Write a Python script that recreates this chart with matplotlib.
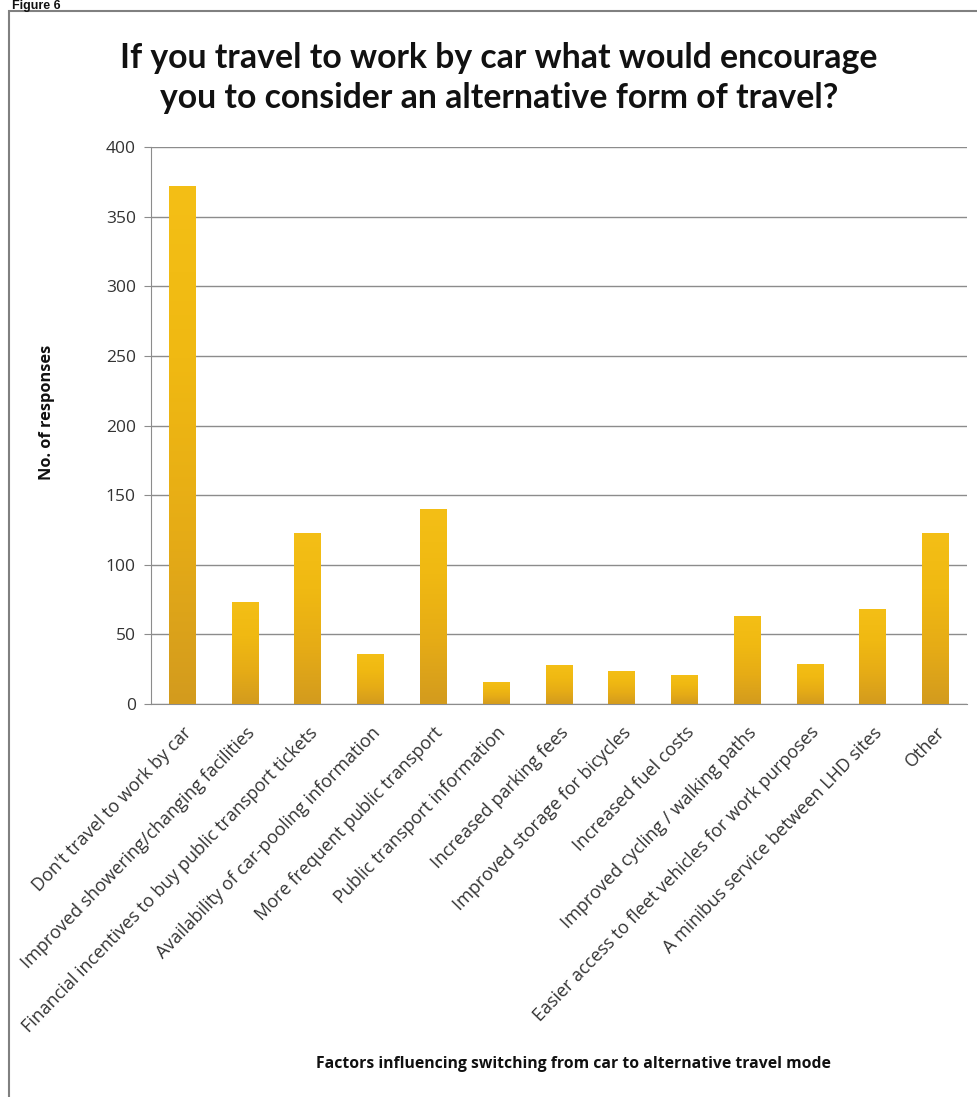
import matplotlib
matplotlib.use("Agg")
import matplotlib.pyplot as plt
import numpy as np
from matplotlib.patches import Rectangle
from matplotlib.colors import LinearSegmentedColormap

categories = [
    "Don't travel to work by car",
    "Improved showering/changing facilities",
    "Financial incentives to buy public transport tickets",
    "Availability of car-pooling information",
    "More frequent public transport",
    "Public transport information",
    "Increased parking fees",
    "Improved storage for bicycles",
    "Increased fuel costs",
    "Improved cycling / walking paths",
    "Easier access to fleet vehicles for work purposes",
    "A minibus service between LHD sites",
    "Other",
]
responses = [372, 73, 123, 36, 140, 16, 28, 24, 21, 63, 29, 68, 123]
y_ticks = [0, 50, 100, 150, 200, 250, 300, 350, 400]

title = "If you travel to work by car what would encourage\nyou to consider an alternative form of travel?"
x_label = "Factors influencing switching from car to alternative travel mode"
y_label = "No. of responses"

W, H = 978, 1097
fig = plt.figure(figsize=(W / 100, H / 100), dpi=100)
fig.patch.set_facecolor("white")

# outer frame
fig.patches.append(Rectangle((9 / W, -0.01), 1.0, 1 - 11 / H + 0.01, transform=fig.transFigure,
                             fill=False, edgecolor="#808080", linewidth=1.5))
fig.text(12 / W, 1 - 9 / H, "Figure 6", fontsize=9, fontweight="bold", family="Liberation Sans",
         ha="left", va="baseline", color="#111111")

ax = fig.add_axes([151 / W, 1 - 704 / H, (967 - 151) / W, (704 - 147) / H])
x = np.arange(len(categories))
bars = ax.bar(x, responses, width=0.43, color="#EBB215", zorder=3)

# vertical gradient inside each bar
grad = np.linspace(0, 1, 256).reshape(-1, 1)
cmap = LinearSegmentedColormap.from_list("g", ["#D39B1E", "#E6AC16", "#F0B912", "#F4BF16"])
for b in bars:
    bx, by = b.get_x(), b.get_y()
    bw, bh = b.get_width(), b.get_height()
    im = ax.imshow(grad, cmap=cmap, origin="lower", aspect="auto",
                   extent=[bx, bx + bw, by, by + bh], zorder=3.5)
    im.set_clip_path(b)

ax.set_xlim(-0.5, len(categories) - 0.5)
ax.set_ylim(0, 400)
ax.set_yticks(y_ticks)
ax.yaxis.grid(True, color="#8c8c8c", linewidth=1.0, zorder=0)
ax.set_axisbelow(True)
for s in ["top", "right"]:
    ax.spines[s].set_visible(False)
ax.spines["left"].set_color("#8c8c8c")
ax.spines["bottom"].set_color("#8c8c8c")
ax.tick_params(axis="y", length=5, color="#8c8c8c", labelsize=12.5, labelcolor="#333333", pad=6)
ax.tick_params(axis="x", length=0, pad=14)
ax.set_xticks(x)
ax.set_xticklabels(categories, rotation=46, ha="right", rotation_mode="anchor",
                   fontsize=13, color="#333333", family="Open Sans")
for lab in ax.get_yticklabels():
    lab.set_family("Open Sans")

fig.text(573 / W, 1 - 1064 / H, x_label, ha="center", va="center", fontsize=11.3,
         fontweight="bold", family="Open Sans", color="#111111")
fig.text(47 / W, 1 - 412 / H, y_label, ha="center", va="center", rotation=90, fontsize=11.8,
         fontweight="bold", family="Open Sans", color="#111111")
fig.text(499 / W, 1 - 78 / H, title, ha="center", va="center", fontsize=24.3, fontweight="bold",
         family="Lato", color="#111111", linespacing=1.32)

fig.savefig("out.png", dpi=100)
